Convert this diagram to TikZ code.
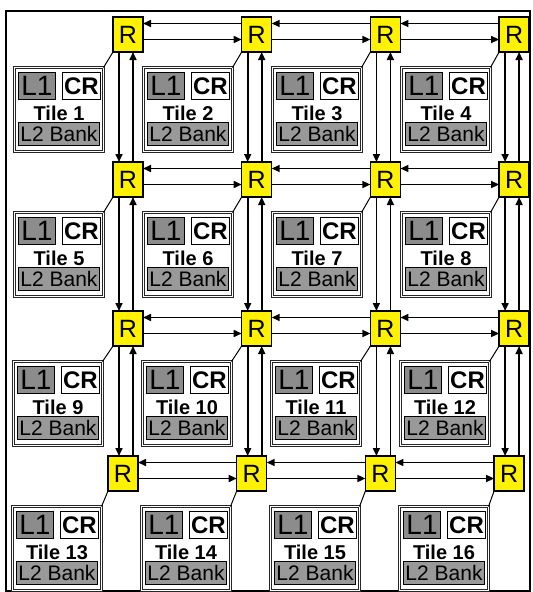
\documentclass[tikz,border=0pt]{standalone}
\usepackage{fontspec}
\setmainfont{Liberation Sans}
\usetikzlibrary{arrows.meta}
\tikzset{every node/.style={inner sep=0pt,outer sep=0pt},line join=miter,
  router/.style={draw,line width=1.3pt,fill=yellow,minimum width=30pt,minimum height=35pt,font=\fontsize{25}{25}\selectfont},
  tilebox/.style={draw=black!85,line width=0.9pt,double=white,double distance=1.3pt,fill=white,minimum width=89pt,minimum height=84pt},
  l1box/.style={draw,line width=1.3pt,fill=gray!90,minimum width=37pt,minimum height=27pt,font=\fontsize{28}{28}\selectfont},
  crbox/.style={l1box,fill=white,minimum width=38pt,font=\fontsize{24}{24}\selectfont\bfseries},
  l2box/.style={l1box,fill=gray!80,minimum width=81pt,minimum height=23pt,font=\fontsize{21}{21}\selectfont},
  tilelabel/.style={font=\fontsize{20}{20}\selectfont\bfseries},
  link/.style={-{Triangle[length=8pt,width=7pt]},line width=1.6pt}}

\begin{document}
\begin{tikzpicture}[x=1pt,y=-1pt]
  \useasboundingbox (0,0) rectangle (533,592);
  \draw[line width=1.8pt] (6,11) rectangle (530,591);
  % routers and tiles, row by row (the last row sits a little to the left)
  \foreach \r/\ry/\rs/\ts in {1/17/0/0,2/162/0/0,3/311/0/1,4/456/5/2} {
    \foreach \c in {0,...,3} {
      \pgfmathtruncatemacro\n{4*(\r-1)+\c+1}
      \node[router] (R\n) at ({128+128.7*\c-\rs},{\ry+17.5}) {R};
      \node[tilebox] (T\n) at ({59+129*\c-\ts},{\ry+92.5}) {};
      \node[l1box,anchor=north west] (L\n) at ([shift={(4,5)}]T\n.north west) {L1};
      \node[crbox,anchor=north west] (C\n) at ([shift={(48,5)}]T\n.north west) {CR};
      \node[tilelabel] (N\n) at ([shift={(44.5,46)}]T\n.north west) {Tile \n};
      \node[l2box,anchor=north west] (B\n) at ([shift={(4,55)}]T\n.north west) {L2 Bank};
      \draw[line width=1pt] (T\n.north east) -- (R\n.south west);
    }
  }
  % east-west links
  \foreach \r in {1,...,4} {
    \foreach \c in {1,2,3} {
      \pgfmathtruncatemacro\a{4*(\r-1)+\c}
      \pgfmathtruncatemacro\b{\a+1}
      \draw[link] ([yshift=11pt]R\b.west) -- ([yshift=11pt]R\b.west -| R\a.east);
      \draw[link] ([yshift=-5pt]R\a.east) -- ([yshift=-5pt]R\a.east -| R\b.west);
    }
  }
  % north-south links
  \foreach \r in {1,2,3} {
    \foreach \c in {1,...,4} {
      \pgfmathtruncatemacro\a{4*(\r-1)+\c}
      \pgfmathtruncatemacro\b{\a+4}
      \draw[link] ([xshift=-9pt]R\a.south) -- ([xshift=-9pt]R\a.south |- R\b.north);
      \draw[link] ([xshift=5pt]R\a.south |- R\b.north) -- ([xshift=5pt]R\a.south);
    }
  }
\end{tikzpicture}
\end{document}
